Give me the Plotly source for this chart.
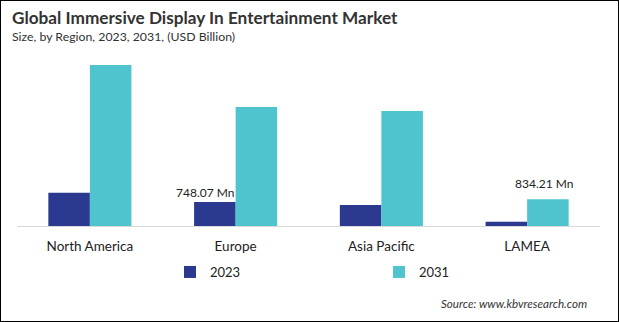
import plotly.graph_objects as go

W, H = 619, 322

regions = ["North America", "Europe", "Asia Pacific", "LAMEA"]
years = ["2023", "2031"]
values_2023 = [1.04, 0.74807, 0.66, 0.13]
values_2031 = [5.03, 3.72, 3.59, 0.83421]
colors = {"2023": "#2b3990", "2031": "#4fc4cf"}

title_text = "Global Immersive Display In Entertainment Market"
subtitle_text = "Size, by Region, 2023, 2031, (USD Billion)"
source_text = "Source: www.kbvresearch.com"

FONT = "Lato"

# plot area in pixels
px_left, px_right = 17, 600
px_top, px_bottom = 50, 226

# each series gets its own legend box so the two entries sit far apart
legend_pos = {"2023": 170, "2031": 379}
legend_names = {"2023": "legend", "2031": "legend2"}

fig = go.Figure()
for yr, vals in zip(years, [values_2023, values_2031]):
    fig.add_trace(go.Bar(
        x=regions, y=vals, name=yr,
        marker=dict(color=colors[yr], line=dict(width=0)),
        legend=legend_names[yr],
        hoverinfo="skip",
    ))

# value callouts, in Mn
callouts = [
    dict(region="Europe", value=values_2023[1], xanchor="right", xshift=0, yshift=0),
    dict(region="LAMEA", value=values_2031[3], xanchor="center", xshift=17, yshift=6),
]
annotations = []
for c in callouts:
    annotations.append(dict(
        x=c["region"], y=c["value"], xref="x", yref="y",
        text=f"{c['value'] * 1000:.2f} Mn", showarrow=False,
        xanchor=c["xanchor"], yanchor="bottom",
        xshift=c["xshift"], yshift=c["yshift"],
        font=dict(family=FONT, size=12, color="#222222"),
    ))

annotations += [
    dict(x=10 / W, y=1 - 17 / H, xref="paper", yref="paper", text=f"<b>{title_text}</b>",
         showarrow=False, xanchor="left", yanchor="middle",
         font=dict(family=FONT, size=17.2, color="#333333")),
    dict(x=10 / W, y=1 - 37 / H, xref="paper", yref="paper", text=subtitle_text,
         showarrow=False, xanchor="left", yanchor="middle",
         font=dict(family=FONT, size=12.3, color="#333333")),
    dict(x=589 / W, y=1 - 303 / H, xref="paper", yref="paper", text=f"<i>{source_text}</i>",
         showarrow=False, xanchor="right", yanchor="middle",
         font=dict(family=FONT, size=11.6, color="#333333")),
]

legend_style = dict(
    orientation="h", yanchor="middle", xanchor="left", y=1 - 272 / H,
    font=dict(family=FONT, size=13, color="#222222"),
    itemclick=False, itemdoubleclick=False, bgcolor="rgba(0,0,0,0)",
)

fig.update_layout(
    width=W, height=H,
    margin=dict(l=0, r=0, t=0, b=0),
    paper_bgcolor="white", plot_bgcolor="white",
    barmode="group", bargap=0.43, bargroupgap=0,
    showlegend=True,
    legend=dict(x=legend_pos["2023"] / W, **legend_style),
    legend2=dict(x=legend_pos["2031"] / W, **legend_style),
    xaxis=dict(
        domain=[px_left / W, px_right / W],
        showline=True, linecolor="#d9d9d9", linewidth=1,
        ticks="", showgrid=False, zeroline=False, ticklabelstandoff=8,
        tickfont=dict(family=FONT, size=13.5, color="#222222"),
    ),
    yaxis=dict(
        domain=[1 - px_bottom / H, 1 - px_top / H],
        range=[0, 5.5], visible=False, showgrid=False, zeroline=False,
    ),
    annotations=annotations,
    shapes=[dict(type="rect", xref="paper", yref="paper", x0=0, x1=1, y0=0, y1=1,
                 line=dict(color="#000000", width=2), layer="above")],
)

fig.write_html("out.html")
